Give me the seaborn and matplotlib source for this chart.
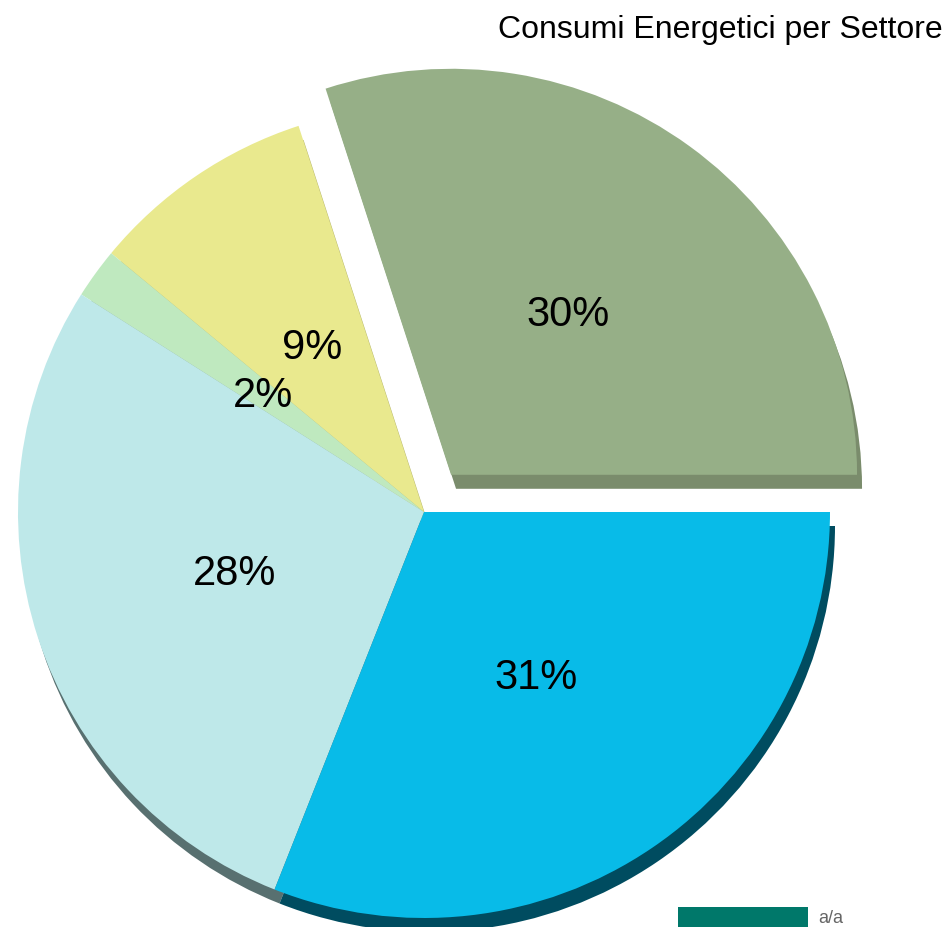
import matplotlib
matplotlib.use("Agg")
import matplotlib.pyplot as plt
from matplotlib.patches import Rectangle
import seaborn as sns

# dati
settori = ["Industria", "Agricoltura", "Altro", "Residenziale", "Trasporti"]
quote = [30, 9, 2, 28, 31]
colori = ["#96AF87", "#E9E98E", "#BFE9BF", "#BEE8E9", "#08BBE8"]
colori_ombra = ["#7A8C6C", "#B8B870", "#90B090", "#587070", "#004C60"]

sns.set_theme(style="white")
plt.rcParams["font.family"] = ["Liberation Sans", "DejaVu Sans"]

fig = plt.figure(figsize=(9.47, 9.28), dpi=100)
ax = fig.add_axes([0, 0, 1, 1])

cx, cy, r = 424, 415, 406
# explode di matplotlib e' in unita' dati (pixel qui)
esplodi = [46, 0, 0, 0, 0]

# ombra (effetto 3D)
ax.pie(quote, colors=colori_ombra, explode=esplodi, startangle=0,
       counterclock=True, radius=r, center=(cx + 5, cy - 14),
       wedgeprops={"linewidth": 0})

ax.pie(quote, colors=colori, explode=esplodi, startangle=0,
       counterclock=True, radius=r, center=(cx, cy),
       autopct="%1.0f%%", pctdistance=0.49,
       textprops={"fontsize": 30, "color": "black"},
       wedgeprops={"linewidth": 0})

ax.set_xlim(0, 947)
ax.set_ylim(0, 928)
ax.set_aspect("equal")
ax.axis("off")

ax.text(943, 898, "Consumi Energetici per Settore", ha="right", va="center",
        fontsize=23, color="black")

# riquadro in basso (tagliato)
ax.add_patch(Rectangle((678, 0), 130, 20, color="#00786A", lw=0))
ax.text(818, 1, "a/a", fontsize=13, color="#666666", va="bottom")

fig.savefig("out.png", dpi=100)
